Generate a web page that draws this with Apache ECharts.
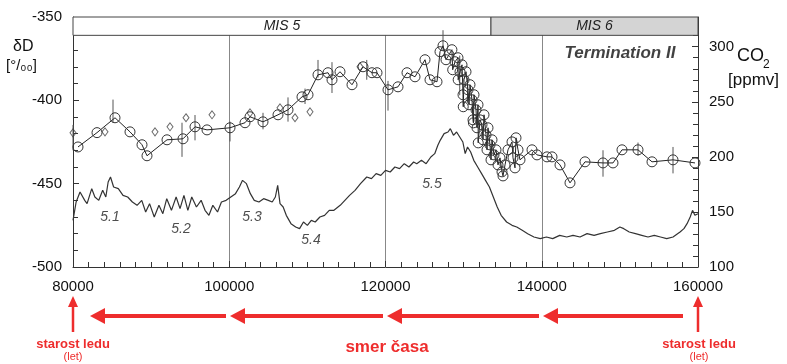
<!DOCTYPE html>
<html>
<head>
<meta charset="utf-8">
<script src="https://cdn.jsdelivr.net/npm/echarts@6/dist/echarts.min.js"></script>
<style>html,body{margin:0;background:#fff}#main{width:787px;height:364px}</style>
</head>
<body>
<div id="main"></div>
<script>
// deuterium (left axis)
var ddYears = [80000,80400,80900,81500,81800,82400,82800,83300,83800,84200,84500,84800,85200,85800,86400,87000,87600,88200,88800,89300,89800,90400,91000,91500,92000,92600,93200,93700,94200,94700,95200,95800,96400,96900,97400,97900,98500,99000,99600,100200,100800,101300,101700,102200,102700,103200,103800,104400,105000,105500,105900,106200,106500,106900,107300,107900,108500,109000,109500,110000,110500,111000,111600,112200,112800,113400,114200,114800,115400,116100,116800,117600,118200,118800,119400,120000,120600,121200,121800,122400,123000,123600,124000,124600,125200,125800,126300,126700,127000,127500,128000,128300,128700,129100,129500,129900,130200,130500,130900,131300,131800,132300,132800,133300,133800,134300,134800,135500,136200,136800,137500,138200,139000,139800,140600,141400,142300,143200,144000,144900,145800,146700,147500,148400,149300,150000,150500,151200,152000,152800,153600,154400,155200,156000,156800,157700,158200,158600,159000,159300,159600,160000];
var ddValues = [-472,-461,-455,-460,-462,-453,-458,-460,-454,-458,-449,-446,-452,-453,-457,-458,-461,-463,-460,-467,-462,-470,-463,-468,-459,-466,-458,-465,-457,-466,-458,-464,-460,-466,-469,-463,-467,-461,-460,-458,-456,-452,-448,-450,-456,-460,-461,-459,-460,-461,-458,-451,-462,-464,-469,-474,-476,-477,-473,-475,-472,-473,-470,-469,-466,-466,-463,-460,-457,-454,-450,-446,-447,-444,-445,-442,-443,-440,-441,-438,-440,-437,-438,-436,-438,-434,-432,-427,-424,-420,-419,-417,-421,-419,-422,-425,-432,-428,-431,-436,-440,-444,-448,-452,-458,-464,-469,-473,-475,-476,-478,-480,-482,-483,-482,-483,-481,-482,-481,-482,-480,-481,-480,-479,-478,-476,-477,-479,-480,-481,-482,-481,-482,-483,-482,-479,-477,-474,-470,-466,-469,-468];

// CO2 (right axis), circles joined by a line
var co2Years = [80640,83072,85376,87296,88832,89472,92032,94080,95616,97152,100096,102016,102656,104320,106240,107520,109312,110080,111360,112640,113152,114176,115712,117120,118272,118912,120320,121600,122752,123776,125056,125696,126592,126976,127360,127744,128128,128500,128600,128896,129280,129300,129536,129792,129920,129950,130048,130304,130560,130688,130816,131072,131200,131250,131328,131584,131712,131840,131870,132096,132352,132480,132608,132864,132992,133120,133376,133504,133632,133888,134144,134400,134656,134912,135040,135296,135680,136192,136320,136576,136704,136960,137216,138752,139392,140672,141312,142336,143616,145536,147840,149120,150272,152320,154112,156800,159616];
var co2Values = [209,222,235.5,222.7,211,201,215.5,216.4,227.3,224.5,226.4,231,236.4,231.8,238.2,242.7,254.5,256.4,274.5,276.4,270,277.3,265.5,281.8,276.4,276.4,260.9,263.6,276.4,272.7,288.2,270,268.2,295.5,300.9,288.2,292.7,297.3,279.1,286.4,290,270,277.3,283.6,256.4,245.5,270,277.3,260.9,247.3,265.5,251.8,233.6,230.9,256.4,242.7,226.4,247.3,212.7,233.6,229.1,215.5,238.2,220,206.4,226.4,210.9,197.3,215.5,201.8,206.4,192.7,199.1,186.4,182.7,192.7,206.4,213.6,199.1,190,217.3,206.4,197.3,206.4,201.8,200,200,192.7,176.4,195.5,194.5,194.5,206.4,206.4,195.5,197.3,194.5];

// second CO2 record (diamonds)
var diaYears = [80000,84096,90496,92416,94464,97792,102656,106496,108416,110336,116736];
var diaValues = [221.8,222.7,222.7,227.3,235.5,238.2,240,244.5,235.5,240.9,281.8];

// CO2 error bars
var errYears = [80000,85120,93952,95616,100096,104320,107520,109700,111360,113150,117600,120320,127360,129500,130500,147840,152320,156800];
var errLow = [206,231,200,215,214,225,232,248,272,258,270,242,297,256,250,182,201,185];
var errHigh = [229,252,231,238,232,240,254,262,288,286,288,269,315,292,272,206,213,209];

// stage labels (left axis coordinates)
var stageNames = ['5.1','5.2','5.3','5.4','5.5'];
var stageYears = [84736,93824,102912,110464,125952];
var stageValues = [-470,-477,-470,-484,-450];

var misNames = ['MIS 5','MIS 6'];
var misEdges = [80000,133500,160000];

var red = '#ee2d2d';
var chart = echarts.init(document.getElementById('main'));

function zip(a, b){ return a.map(function(v, i){ return [v, b[i]]; }); }

var font = '"Liberation Sans", Arial';
var heads = [90, 230, 387, 543];
var graphics = [
  {type:'text', left:13, top:39, style:{text:'δD', font:'16px ' + font, fill:'#111'}},
  {type:'text', left:6, top:58, style:{text:'[°/₀₀]', font:'15px ' + font, fill:'#111'}},
  {type:'text', left:737, top:47, style:{text:'CO', font:'18px ' + font, fill:'#111'}},
  {type:'text', left:763, top:59, style:{text:'2', font:'12px ' + font, fill:'#111'}},
  {type:'text', left:728, top:72, style:{text:'[ppmv]', font:'17px ' + font, fill:'#111'}},
  {type:'text', x:73, y:344, style:{text:'starost ledu', font:'bold 13px ' + font, fill:red, align:'center', verticalAlign:'middle'}},
  {type:'text', x:73, y:357, style:{text:'(let)', font:'11px ' + font, fill:red, align:'center', verticalAlign:'middle'}},
  {type:'text', x:699, y:344, style:{text:'starost ledu', font:'bold 13px ' + font, fill:red, align:'center', verticalAlign:'middle'}},
  {type:'text', x:699, y:357, style:{text:'(let)', font:'11px ' + font, fill:red, align:'center', verticalAlign:'middle'}},
  {type:'text', x:387, y:347, style:{text:'smer časa', font:'bold 17px ' + font, fill:red, align:'center', verticalAlign:'middle'}},
  {type:'line', shape:{x1:73, y1:305, x2:73, y2:332}, style:{stroke:red, lineWidth:2.5}},
  {type:'polygon', shape:{points:[[73,296],[68,307],[78,307]]}, style:{fill:red}},
  {type:'line', shape:{x1:698, y1:305, x2:698, y2:332}, style:{stroke:red, lineWidth:2.5}},
  {type:'polygon', shape:{points:[[698,296],[693,307],[703,307]]}, style:{fill:red}}
];
heads.forEach(function(t, i){
  graphics.push({type:'polygon', shape:{points:[[t,316],[t+15,308],[t+15,324]]}, style:{fill:red}});
  var end = i < heads.length - 1 ? heads[i+1] - 4 : 683;
  graphics.push({type:'line', shape:{x1:t+14, y1:316, x2:end, y2:316}, style:{stroke:red, lineWidth:4}});
});

var tick = {show:true, inside:true, length:6, lineStyle:{color:'#333', width:1}};
var minor = {show:true, length:5, lineStyle:{color:'#333', width:1}};

var option = {
  animation: false,
  textStyle: {fontFamily: font},
  grid: {left:73, right:89, top:17, bottom:97},
  xAxis: {
    type:'value', min:80000, max:160000, interval:20000,
    axisLine:{show:true, lineStyle:{color:'#333'}},
    axisTick:tick,
    minorTick:Object.assign({splitNumber:10}, minor),
    axisLabel:{color:'#111', fontSize:15, margin:12, formatter:function(v){ return String(v); }},
    splitLine:{show:true, lineStyle:{color:'#888', width:1}}
  },
  yAxis: [{
    type:'value', min:-500, max:-350, interval:50,
    axisLine:{show:true, lineStyle:{color:'#333'}},
    axisTick:tick,
    minorTick:Object.assign({splitNumber:5}, minor),
    axisLabel:{color:'#111', fontSize:15, margin:11},
    splitLine:{show:false}
  }, {
    type:'value', min:100, max:327, interval:50, position:'right',
    axisLine:{show:true, lineStyle:{color:'#333'}},
    axisTick:tick,
    minorTick:Object.assign({splitNumber:5}, minor),
    axisLabel:{color:'#111', fontSize:15, margin:11,
      formatter:function(v){ return v % 50 === 0 ? String(v) : ''; }},
    splitLine:{show:false}
  }],
  graphic: graphics,
  series: [{
    name:'dD', type:'line', yAxisIndex:0, data:zip(ddYears, ddValues),
    showSymbol:false, lineStyle:{color:'#333', width:1.2},
    markArea:{
      silent:true,
      label:{position:'inside', fontStyle:'italic', fontSize:14, color:'#222'},
      data:[
        [{name:misNames[0], xAxis:misEdges[0], yAxis:-361, itemStyle:{color:'#fff', borderColor:'#444', borderWidth:1}}, {xAxis:misEdges[1], yAxis:-350}],
        [{name:misNames[1], xAxis:misEdges[1], yAxis:-361, itemStyle:{color:'#d4d4d4', borderColor:'#444', borderWidth:1}}, {xAxis:misEdges[2], yAxis:-350}]
      ]
    }
  }, {
    name:'err', type:'custom', yAxisIndex:1,
    data:errYears.map(function(y, i){ return [y, errLow[i], errHigh[i]]; }),
    encode:{x:0, y:[1,2]},
    renderItem:function(params, api){
      var a = api.coord([api.value(0), api.value(1)]);
      var b = api.coord([api.value(0), api.value(2)]);
      return {type:'line', shape:{x1:a[0], y1:a[1], x2:b[0], y2:b[1]}, style:{stroke:'#555', lineWidth:1}};
    }
  }, {
    name:'CO2', type:'line', yAxisIndex:1, data:zip(co2Years, co2Values),
    symbol:'circle', symbolSize:10, showAllSymbol:true,
    lineStyle:{color:'#222', width:1},
    itemStyle:{color:'rgba(0,0,0,0)', borderColor:'#333', borderWidth:1}
  }, {
    name:'CO2b', type:'scatter', yAxisIndex:1, data:zip(diaYears, diaValues),
    symbol:'diamond', symbolSize:[6,8],
    itemStyle:{color:'rgba(0,0,0,0)', borderColor:'#444', borderWidth:1}
  }, {
    name:'stages', type:'scatter', yAxisIndex:0, symbolSize:0,
    data:stageYears.map(function(y, i){ return [y, stageValues[i], stageNames[i]]; }),
    label:{show:true, position:'inside', fontStyle:'italic', fontSize:14, color:'#222',
      formatter:function(p){ return p.data[2]; }}
  }, {
    name:'term', type:'scatter', yAxisIndex:0, symbolSize:0,
    data:[[150016, -372, 'Termination II']],
    label:{show:true, position:'inside', fontStyle:'italic', fontWeight:'bold', fontSize:17, color:'#111',
      formatter:function(p){ return p.data[2]; }}
  }]
};
chart.setOption(option);
</script>
</body>
</html>
